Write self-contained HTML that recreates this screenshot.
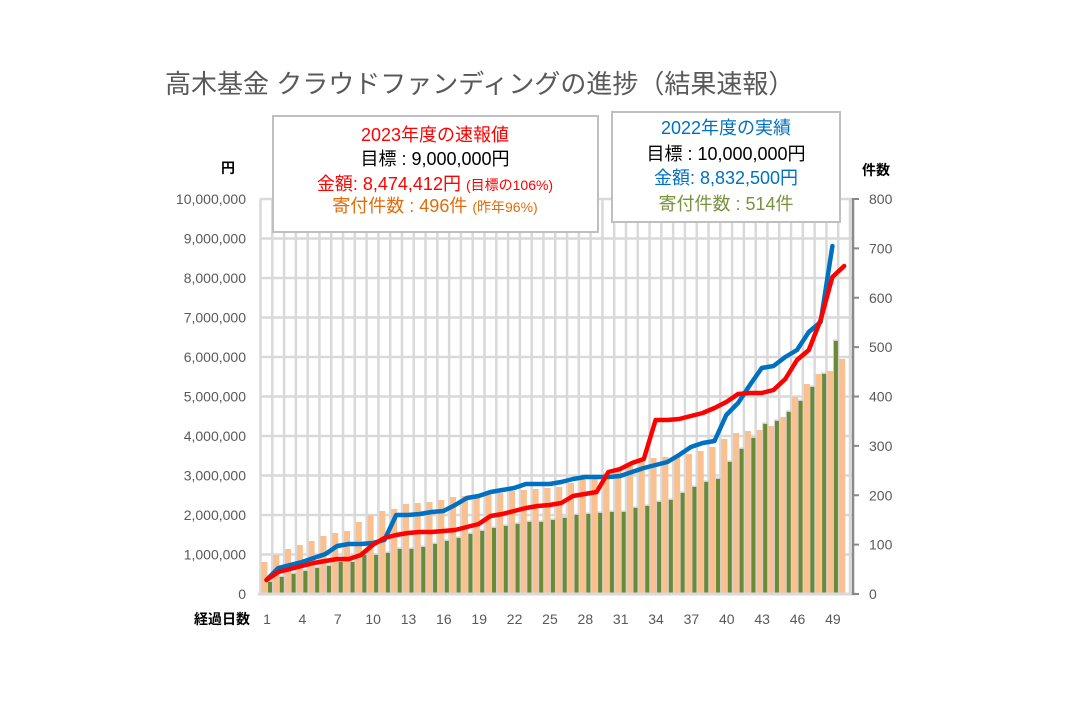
<!DOCTYPE html>
<html><head><meta charset="utf-8"><style>
html,body{margin:0;padding:0;background:#fff;}
body{width:1069px;height:701px;overflow:hidden;font-family:"Liberation Sans","Noto Sans CJK JP",sans-serif;}
</style></head><body>
<svg id="c" width="1069" height="701" xmlns="http://www.w3.org/2000/svg" font-family="Liberation Sans, Noto Sans CJK JP, sans-serif">
<g id="grid"></g><g id="bars"></g><g id="lines"></g><g id="axes"></g>
<text x="165" y="93" font-size="26" fill="#595959">高木基金 クラウドファンディングの進捗（結果速報）</text>
<text x="228" y="173" font-size="14" font-weight="bold" fill="#000" text-anchor="middle">円</text>
<text x="876" y="175" font-size="14" font-weight="bold" fill="#000" text-anchor="middle">件数</text>
<text x="222" y="624" font-size="14" font-weight="bold" fill="#000" text-anchor="middle">経過日数</text>
<rect x="273" y="116" width="325" height="116" fill="#fff" stroke="#bfbfbf" stroke-width="2"/>
<text x="435" y="141" font-size="18" fill="#ff0000" text-anchor="middle">2023年度の速報値</text>
<text x="435" y="165" font-size="18" fill="#000" text-anchor="middle">目標 : 9,000,000円</text>
<text x="435" y="190" font-size="18" fill="#ff0000" text-anchor="middle">金額:  8,474,412円 <tspan font-size="14">(目標の106%)</tspan></text>
<text x="435" y="212" font-size="18" fill="#e36c09" text-anchor="middle">寄付件数 : 496件 <tspan font-size="14">(昨年96%)</tspan></text>
<rect x="612" y="112" width="228" height="110" fill="#fff" stroke="#bfbfbf" stroke-width="2"/>
<text x="726" y="134" font-size="18" fill="#0070c0" text-anchor="middle">2022年度の実績</text>
<text x="726" y="160" font-size="18" fill="#000" text-anchor="middle">目標 : 10,000,000円</text>
<text x="726" y="184" font-size="18" fill="#0070c0" text-anchor="middle">金額:  8,832,500円</text>
<text x="726" y="210" font-size="18" fill="#77933c" text-anchor="middle">寄付件数 : 514件</text>
</svg>
<script>
var NS="http://www.w3.org/2000/svg";
function el(p,t,a,txt){var e=document.createElementNS(NS,t);for(var k in a)e.setAttribute(k,a[k]);if(txt!=null)e.textContent=txt;document.getElementById(p).appendChild(e);return e;}
var b0=260.5,st=11.79,yTop=199,bot=594;
for(var i=0;i<=10;i++){var y=yTop+39.5*i;el("grid","line",{x1:260,x2:852,y1:y,y2:y,stroke:"#d9d9d9","stroke-width":2.5});}
for(var k=0;k<=50;k++){var x=b0+st*k;el("grid","line",{x1:x,x2:x,y1:yTop,y2:bot,stroke:"#d9d9d9","stroke-width":2.5});}
var org=[562,555,549,545,541,536,533,531,522,515,511,509,504,503,502,500,497,496,496,494,493,491,490,489,488,487,483,479,477,473,468,466,461,458,457,457,454,451,447,439,433,431,430,426,417,397,384,374,371,359];
var grn=[582,577,574,571,568,566,562,562,555,555,553,549,549,547,544,541,538,534,531,528,526,524,522,522,520,518,515,514,513,512,512,508,506,502,500,493,487,482,479,462,449,438,424,421,412,401,387,374,341];
var blue=[580,568,565,562,558,554,546,544,544,543,540,515,515,514,512,511,505,498,496,492,490,488,484,484,484,482,479,477,477,477,476,472,468,465,462,455,447,443,441,415,403,385,368,366,357,350,332,322,246];
var red=[580,572,569,566,563,561,559,559,555,545,538,535,533,532,532,531,530,527,524,516,514,511,508,506,505,503,496,494,492,472,469,463,459,420,420,419,416,413,408,402,394,393,393,390,379,360,350,320,277,266];
for(var i=0;i<50;i++){var x=b0+st*i;
 el("bars","rect",{x:x+1,y:org[i],width:6,height:bot-org[i],fill:"#fac090"});
 if(i<49){el("bars","rect",{x:x+6.5,y:grn[i]-1.5,width:6,height:bot-grn[i]+1.5,fill:"#d0d0d0"});
 el("bars","rect",{x:x+7.5,y:grn[i],width:4,height:bot-grn[i],fill:"#6b8a35"});}
}
function pl(arr,c){var p=arr.map(function(v,i){return (b0+st*i+6).toFixed(1)+","+v;}).join(" ");
 el("lines","polyline",{points:p,fill:"none",stroke:c,"stroke-width":4.5,"stroke-linejoin":"round","stroke-linecap":"round"});}
pl(blue,"#0070c0");pl(red,"#ff0000");
el("axes","line",{x1:258,x2:856,y1:bot,y2:bot,stroke:"#d9d9d9","stroke-width":3});
el("axes","line",{x1:853,x2:853,y1:yTop-1,y2:bot+1,stroke:"#898989","stroke-width":2.5});
for(var i=0;i<=8;i++){var y=bot-49.375*i;el("axes","line",{x1:853,x2:859,y1:y,y2:y,stroke:"#898989","stroke-width":2});
 el("axes","text",{x:869,y:y+5,"font-size":14,fill:"#595959"},String(i*100));}
for(var i=0;i<=10;i++){var y=bot-39.5*i;var s=(i*1000000).toLocaleString("en-US");
 el("axes","text",{x:246,y:y+5,"font-size":14,fill:"#595959","text-anchor":"end"},s);}
for(var d=1;d<=49;d+=3){var x=b0+st*(d-1)+6.5;el("axes","text",{x:x,y:624,"font-size":14,fill:"#595959","text-anchor":"middle"},String(d));}
</script>
</body></html>
